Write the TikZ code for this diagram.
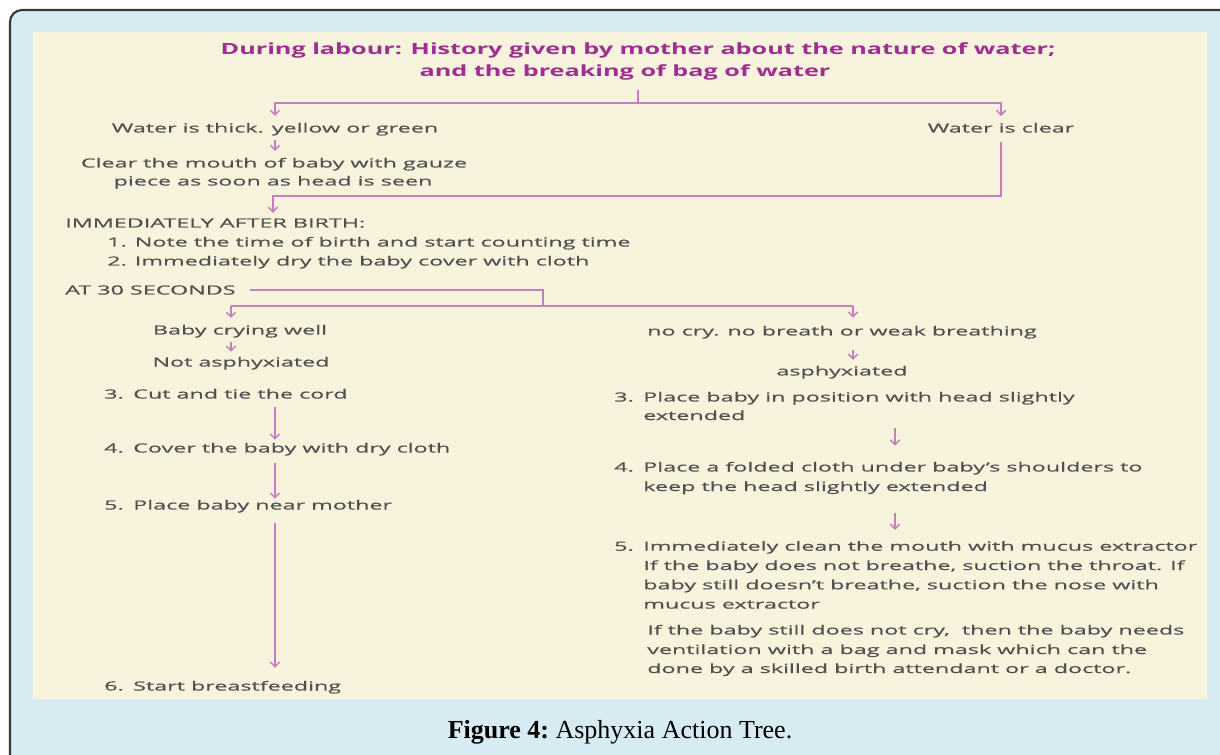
\documentclass[tikz,border=0pt]{standalone}
\usepackage{fontspec}
\setmainfont{Liberation Serif}
\newfontfamily\bodyfont[FakeStretch=1.85,FakeBold=0.5]{Open Sans}
\newfontfamily\titlefont[FakeStretch=1.63]{Open Sans}
\usetikzlibrary{arrows.meta,calc}
\definecolor{frameblue}{RGB}{215,236,242}
\definecolor{fstroke}{RGB}{55,55,55}
\definecolor{cream}{RGB}{248,243,221}
\definecolor{pline}{RGB}{200,125,195}
\definecolor{ptitle}{RGB}{160,45,145}
\definecolor{tgray}{RGB}{80,80,80}
\newcommand\stepno[1]{\makebox[21.75pt][l]{#1}}
\begin{document}
\begin{tikzpicture}[x=0.75pt,y=-0.75pt,
  body/.style={font=\bodyfont\fontsize{9.45}{12}\selectfont, text=tgray, inner sep=0pt},
  ttl/.style={font=\titlefont\bfseries\fontsize{11.6}{14}\selectfont, text=ptitle, inner sep=0pt},
  ln/.style={draw=pline, line width=1.1pt},
  arr/.style={ln, -{Straight Barb[length=3.5pt,width=7pt]}}]
\useasboundingbox (0,0) rectangle (1220,755);
\begin{scope}
  \clip (0,0) rectangle (1220,755);
  \draw[fill=frameblue,draw=fstroke,line width=1.6pt,rounded corners=9pt] (10,10) rectangle (1260,800);
\end{scope}
\fill[cream] (33,32) rectangle (1207,699);

% title
\node[ttl,anchor=base] (t1) at (638,55) {During labour: History given by mother about the nature of water;};
\node[ttl,anchor=base] (t2) at (625,77) {and the breaking of bag of water};
\coordinate (j0) at (638,90);
\coordinate (j1) at (638,103);
\draw[ln] (j0) -- (j1);

% water branches
\node[body,anchor=base] (thick) at (275,132.5) {Water is thick. yellow or green};
\node[body,anchor=base] (clear) at (1001,132.5) {Water is clear};
\draw[arr,shorten >=5pt] (j1) -| (thick.north);
\draw[arr,shorten >=5pt] (j1) -| (clear.north);
\node[body,anchor=base] (g1) at (274,167.5) {Clear the mouth of baby with gauze};
\node[body,anchor=base] (g2) at (273,185.5) {piece as soon as head is seen};
\draw[arr,shorten <=3.4pt,shorten >=5pt] (thick.south) -- (thick.south |- g1.north);

% immediately after birth
\node[body,anchor=base west] (imm) at (65,227.5) {IMMEDIATELY AFTER BIRTH:};
\node[body,anchor=base west] (n1) at (107,246.5) {1. Note the time of birth and start counting time};
\node[body,anchor=base west] (n2) at (107,265.5) {2. Immediately dry the baby cover with cloth};
\coordinate (j2) at (273,196);
\draw[arr,shorten >=4pt] ($(clear.south)+(0,9.5)$) |- (j2) -- (j2 |- imm.north);

% at 30 seconds
\node[body,anchor=base west] (at30) at (65,294.5) {AT 30 SECONDS};
\coordinate (j4) at (543,306);
\coordinate (cL) at (231,306);
\coordinate (cR) at (853,306);
\draw[ln] ($(at30.east)+(14,0)$) -| (j4);
\draw[ln] (cL) -- (cR);
\node[body,anchor=base] (cry) at (240,334.5) {Baby crying well};
\node[body,anchor=base] (notas) at (241,366.5) {Not asphyxiated};
\node[body,anchor=base] (nocry) at (842,335.5) {no cry. no breath or weak breathing};
\node[body,anchor=base] (asph) at (842,375.5) {asphyxiated};
\draw[arr,shorten >=5pt] (cL) -- (cL |- cry.north);
\draw[arr,shorten >=6pt] (cR) -- (cR |- nocry.north);
\draw[arr,shorten <=3.4pt,shorten >=3.7pt] (cL |- cry.south) -- (cL |- notas.north);
\draw[arr,shorten <=8.6pt,shorten >=4.4pt] (cR |- nocry.south) -- (cR |- asph.north);

% left column
\node[body,anchor=base west] (l3) at (104,398.5) {\stepno{3.}Cut and tie the cord};
\node[body,anchor=base west] (l4) at (104,452.5) {\stepno{4.}Cover the baby with dry cloth};
\node[body,anchor=base west] (l5) at (104,509.5) {\stepno{5.}Place baby near mother};
\node[body,anchor=base west] (l6) at (104,690.5) {\stepno{6.}Start breastfeeding};
\coordinate (cLL) at (275,0);
\draw[arr,shorten <=6.4pt,shorten >=2.2pt] (cLL |- l3.south) -- (cLL |- l4.north);
\draw[arr,shorten <=5.6pt,shorten >=0.7pt] (cLL |- l4.south) -- (cLL |- l5.north);
\draw[arr,shorten <=7.9pt,shorten >=9.7pt] (cLL |- l5.south) -- (cLL |- l6.north);

% right column
\node[body,anchor=base west] (r3a) at (614,401.5) {\stepno{3.}Place baby in position with head slightly};
\node[body,anchor=base west] (r3b) at (643,420) {extended};
\node[body,anchor=base west] (r4a) at (614,471.5) {\stepno{4.}Place a folded cloth under baby’s shoulders to};
\node[body,anchor=base west] (r4b) at (643,491) {keep the head slightly extended};
\node[body,anchor=base west] (r5a) at (614,550.7) {\stepno{5.}Immediately clean the mouth with mucus extractor};
\node[body,anchor=base west] (r5b) at (643,570) {If the baby does not breathe, suction the throat. If};
\node[body,anchor=base west] (r5c) at (643,589.3) {baby still doesn’t breathe, suction the nose with};
\node[body,anchor=base west] (r5d) at (643,608.6) {mucus extractor};
\node[body,anchor=base west] (p1) at (647,634.5) {If the baby still does not cry,\ \ then the baby needs};
\node[body,anchor=base west] (p2) at (647,654) {ventilation with a bag and mask which can the};
\node[body,anchor=base west] (p3) at (647,673) {done by a skilled birth attendant or a doctor.};
\coordinate (cRR) at (895,0);
\draw[arr,shorten <=6pt,shorten >=12pt] (cRR |- r3b.south) -- (cRR |- r4a.north);
\draw[arr,shorten <=14.3pt,shorten >=8.3pt] (cRR |- r4b.south) -- (cRR |- r5a.north);

% caption
\node[anchor=base,inner sep=0pt,font=\fontsize{19.5}{23}\selectfont] (cap) at (620,738) {\frenchspacing\textbf{Figure 4:}\ Asphyxia Action Tree.};
\end{tikzpicture}
\end{document}
